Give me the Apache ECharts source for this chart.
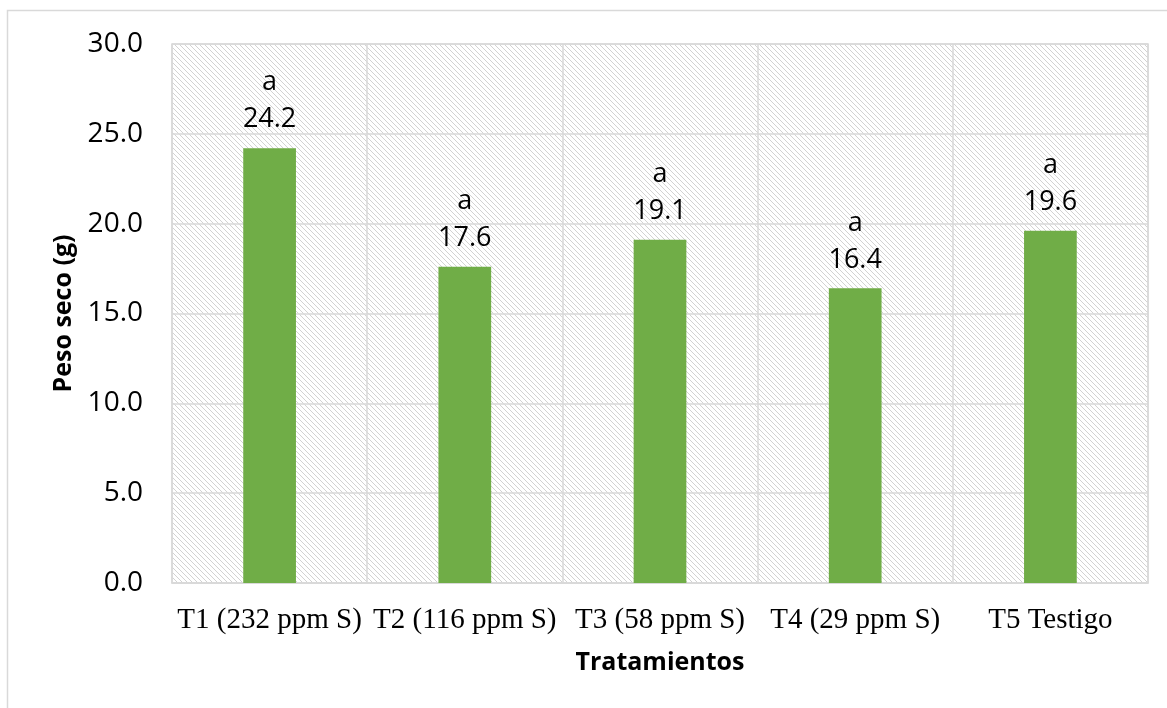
<!DOCTYPE html>
<html>
<head>
<meta charset="utf-8">
<script src="https://cdn.jsdelivr.net/npm/echarts@6/dist/echarts.min.js"></script>
<style>html,body{margin:0;padding:0;background:#fff;}#c{width:1167px;height:708px;}</style>
</head>
<body>
<div id="c"></div>
<script>
const categories = ['T1 (232 ppm S)', 'T2 (116 ppm S)', 'T3 (58 ppm S)', 'T4 (29 ppm S)', 'T5 Testigo'];
const values = [24.2, 17.6, 19.1, 16.4, 19.6];
const letters = ['a', 'a', 'a', 'a', 'a'];
const yTicks = [0, 5, 10, 15, 20, 25, 30];

const P = 5;
const pc = document.createElement('canvas');
pc.width = P; pc.height = P;
const g = pc.getContext('2d');
g.fillStyle = '#ffffff'; g.fillRect(0, 0, P, P);
g.fillStyle = '#d2d2d2';
for (let i = 0; i < P; i++) g.fillRect(i, i, 1, 1);

const chart = echarts.init(document.getElementById('c'), null, {renderer: 'canvas'});
chart.setOption({
  animation: false,
  backgroundColor: '#ffffff',
  graphic: [{
    type: 'rect', silent: true, z: -10,
    shape: {x: 7.5, y: 10.5, width: 1175, height: 720},
    style: {fill: 'none', stroke: '#d9d9d9', lineWidth: 1.5}
  }],
  grid: {
    left: 172, right: 19, top: 44, bottom: 125,
    show: true, borderColor: '#d9d9d9', borderWidth: 1.5,
    backgroundColor: {image: pc, repeat: 'repeat'}
  },
  xAxis: {
    type: 'category', data: categories,
    name: 'Tratamientos', nameLocation: 'middle', nameGap: 67,
    nameTextStyle: {fontFamily: 'Open Sans', fontWeight: 'bold', fontSize: 25, color: '#000'},
    axisLine: {show: true, lineStyle: {color: '#d9d9d9', width: 1.5}},
    axisTick: {show: false},
    axisLabel: {fontFamily: 'Liberation Serif', fontSize: 29, color: '#000', margin: 23, interval: 0},
    splitLine: {show: true, lineStyle: {color: '#d9d9d9', width: 1.5}}
  },
  yAxis: {
    type: 'value', min: yTicks[0], max: yTicks[yTicks.length - 1], interval: 5,
    name: 'Peso seco (g)', nameLocation: 'middle', nameGap: 95,
    nameTextStyle: {fontFamily: 'Open Sans', fontWeight: 'bold', fontSize: 25, color: '#000'},
    axisLine: {show: false}, axisTick: {show: false},
    axisLabel: {fontFamily: 'Open Sans', fontSize: 28, color: '#000', margin: 29, formatter: v => v.toFixed(1)},
    splitLine: {show: true, lineStyle: {color: '#d9d9d9', width: 1.5}}
  },
  series: [{
    type: 'bar', data: values, barWidth: '27%',
    itemStyle: {color: '#70AD47'},
    label: {
      show: true, position: 'top', distance: 10,
      formatter: p => '{a|' + letters[p.dataIndex] + '}\n{v|' + p.value.toFixed(1) + '}',
      rich: {
        a: {fontFamily: 'Open Sans', fontSize: 27, color: '#000', lineHeight: 37, align: 'center'},
        v: {fontFamily: 'Open Sans', fontSize: 27, color: '#000', lineHeight: 37, align: 'center'}
      }
    }
  }]
});
</script>
</body>
</html>
